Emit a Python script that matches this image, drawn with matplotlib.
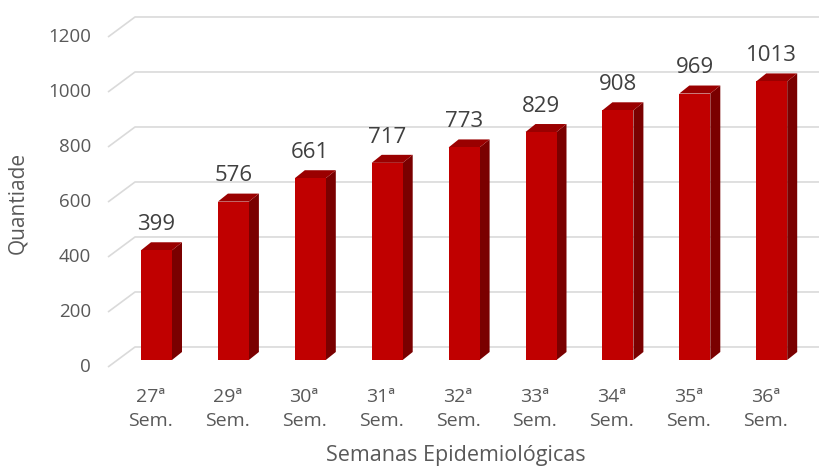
import matplotlib
matplotlib.use("Agg")
import matplotlib.pyplot as plt
from matplotlib.patches import Polygon
import numpy as np

plt.rcParams['font.family'] = ['Open Sans', 'DejaVu Sans']

weeks = ["27ª", "29ª", "30ª", "31ª", "32ª", "33ª", "34ª", "35ª", "36ª"]
counts = [399, 576, 661, 717, 773, 829, 908, 969, 1013]
y_ticks = [0, 200, 400, 600, 800, 1000, 1200]

# pixel layout helpers (figure is 819x467 px, axes covers whole figure)
PX_X0, PX_STEP = 156.5, 76.9      # pixel x of first bar center, spacing
PX_Y0, PX_PER = 360.0, 0.275      # pixel y of value 0, px per unit

def px_x(p):
    return (p - PX_X0) / PX_STEP

def px_y(p):
    return (PX_Y0 - p) / PX_PER

fig = plt.figure(figsize=(8.19, 4.67), dpi=100)
ax = fig.add_axes([0, 0, 1, 1])
ax.set_xlim(px_x(0), px_x(819))
ax.set_ylim(px_y(467), px_y(0))
ax.set_axis_off()

grid_c = "#DADADA"
text_c = "#595959"

# 3d-ish gridlines: slanted segment on the left wall, then back plane
front_x, back_x = px_x(108), px_x(135)
front_dv, back_dv = -25.5, 47.3
for v in y_ticks:
    ax.plot([front_x, back_x, px_x(819)],
            [v + front_dv, v + back_dv, v + back_dv],
            color=grid_c, lw=1.2, zorder=1, solid_capstyle="butt")
    ax.text(px_x(91), v + front_dv, str(v), ha="right", va="center",
            fontsize=13.5, color=text_c)

x = np.arange(len(counts))
w = 31 / PX_STEP
dx, dy = 10 / PX_STEP, 8 / PX_PER

ax.bar(x, counts, width=w, color="#C00000", zorder=3)
for xi, v in zip(x, counts):
    r = xi + w / 2
    l = xi - w / 2
    ax.add_patch(Polygon([(r, 0), (r + dx, dy), (r + dx, v + dy), (r, v)],
                         closed=True, facecolor="#7A0000", edgecolor="none", zorder=2))
    ax.add_patch(Polygon([(l, v), (r, v), (r + dx, v + dy), (l + dx, v + dy)],
                         closed=True, facecolor="#9A0000", edgecolor="none", zorder=2))
    ax.annotate(str(v), (xi, v), xytext=(0, 18.5), textcoords="offset points",
                ha="center", va="center", fontsize=16, color="#404040")

for xi, wk in zip(x, weeks):
    ax.text(xi - 0.08, px_y(409), f"{wk}\nSem.", ha="center", va="center",
            multialignment="center", fontsize=14, color=text_c, linespacing=1.4)

ax.text(px_x(456), px_y(455), "Semanas Epidemiológicas", ha="center", va="center",
        fontsize=15.5, color=text_c)
ax.text(px_x(18), px_y(203), "Quantiade", ha="center", va="center",
        rotation=90, fontsize=15, color=text_c)

fig.savefig("out.png", dpi=100)
